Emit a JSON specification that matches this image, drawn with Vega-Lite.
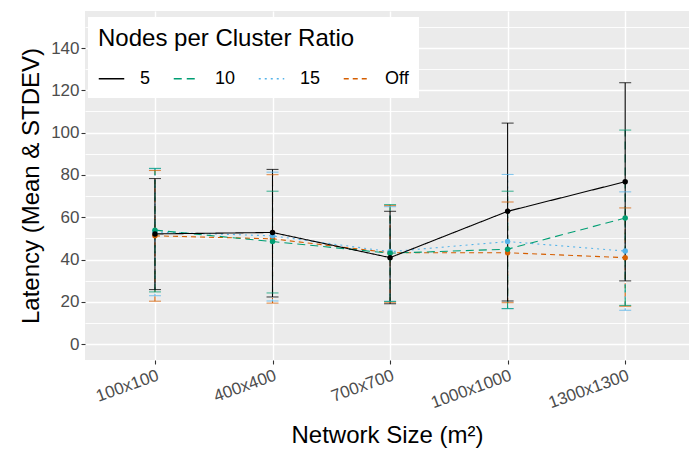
{
  "$schema": "https://vega.github.io/schema/vega-lite/v6.json",
  "width": 604,
  "height": 349,
  "padding": {"left": 85, "top": 11, "right": 0, "bottom": 92},
  "autosize": {"type": "none"},
  "background": "white",
  "config": {
    "font": "Liberation Sans",
    "view": {"fill": "#EBEBEB", "stroke": null},
    "axis": {
      "domain": false,
      "gridColor": "white",
      "tickColor": "#333333",
      "tickSize": 4,
      "tickWidth": 1.1,
      "labelColor": "#4D4D4D",
      "labelFont": "Liberation Sans",
      "titleFont": "Liberation Sans",
      "titleFontWeight": "normal",
      "titleColor": "black"
    },
    "legend": {
      "orient": "none",
      "legendX": 3,
      "legendY": 6,
      "direction": "horizontal",
      "fillColor": "white",
      "padding": 10,
      "titleFont": "Liberation Sans",
      "labelFont": "Liberation Sans",
      "titleFontSize": 24,
      "titleFontWeight": "normal",
      "titleColor": "black",
      "titleLimit": 500,
      "labelFontSize": 18,
      "labelColor": "black",
      "symbolType": "stroke",
      "symbolSize": 650,
      "symbolStrokeWidth": 1.3,
      "labelOffset": 15,
      "columnPadding": 20,
      "titlePadding": 14
    }
  },
  "data": {
    "values": [
      {"size": "100x100", "ratio": "Off", "mean": 51.2, "lo": 20.3, "hi": 82.1},
      {"size": "100x100", "ratio": "15", "mean": 53.0, "lo": 22.9, "hi": 83.0},
      {"size": "100x100", "ratio": "10", "mean": 53.9, "lo": 24.7, "hi": 83.1},
      {"size": "100x100", "ratio": "5", "mean": 52.1, "lo": 25.8, "hi": 78.3},
      {"size": "400x400", "ratio": "Off", "mean": 49.8, "lo": 19.4, "hi": 80.1},
      {"size": "400x400", "ratio": "15", "mean": 51.2, "lo": 20.4, "hi": 81.3},
      {"size": "400x400", "ratio": "10", "mean": 48.5, "lo": 24.2, "hi": 72.3},
      {"size": "400x400", "ratio": "5", "mean": 52.8, "lo": 22.3, "hi": 82.6},
      {"size": "700x700", "ratio": "Off", "mean": 43.2, "lo": 19.8, "hi": 65.5},
      {"size": "700x700", "ratio": "15", "mean": 43.7, "lo": 20.2, "hi": 65.0},
      {"size": "700x700", "ratio": "10", "mean": 43.0, "lo": 20.2, "hi": 66.0},
      {"size": "700x700", "ratio": "5", "mean": 40.9, "lo": 19.1, "hi": 62.8},
      {"size": "1000x1000", "ratio": "Off", "mean": 43.2, "lo": 19.6, "hi": 67.2},
      {"size": "1000x1000", "ratio": "15", "mean": 48.5, "lo": 16.8, "hi": 80.2},
      {"size": "1000x1000", "ratio": "10", "mean": 44.9, "lo": 16.8, "hi": 72.3},
      {"size": "1000x1000", "ratio": "5", "mean": 62.8, "lo": 20.4, "hi": 104.5},
      {"size": "1300x1300", "ratio": "Off", "mean": 40.9, "lo": 17.9, "hi": 64.4},
      {"size": "1300x1300", "ratio": "15", "mean": 44.0, "lo": 16.0, "hi": 72.0},
      {"size": "1300x1300", "ratio": "10", "mean": 59.6, "lo": 18.3, "hi": 101.2},
      {"size": "1300x1300", "ratio": "5", "mean": 76.8, "lo": 29.9, "hi": 123.6}
    ]
  },
  "encoding": {
    "x": {
      "field": "size",
      "type": "ordinal",
      "sort": ["100x100", "400x400", "700x700", "1000x1000", "1300x1300"],
      "scale": {"type": "point", "padding": 0.569, "align": 0.523},
      "axis": {
        "title": "Network Size (m²)",
        "titleFontSize": 24,
        "titlePadding": 13,
        "labelFontSize": 17,
        "labelAngle": -20,
        "labelAlign": "right",
        "labelBaseline": "top",
        "labelPadding": 3,
        "grid": true,
        "gridWidth": 1.4
      }
    },
    "color": {
      "field": "ratio",
      "type": "nominal",
      "scale": {"domain": ["5", "10", "15", "Off"], "range": ["#000000", "#009E73", "#56B4E9", "#D55E00"]},
      "legend": null
    }
  },
  "layer": [
    {
      "mark": {"type": "rule", "strokeWidth": 1.1},
      "encoding": {
        "y": {
          "field": "lo",
          "type": "quantitative",
          "scale": {"domain": [-7.5, 157.5], "nice": false, "zero": false},
          "axis": {
            "title": "Latency (Mean & STDEV)",
            "titleFontSize": 24,
            "titlePadding": 7,
            "labelFontSize": 17,
            "labelPadding": 2,
            "values": [0, 10, 20, 30, 40, 50, 60, 70, 80, 90, 100, 110, 120, 130, 140, 150],
            "labelExpr": "datum.value % 20 === 0 ? datum.label : ''",
            "tickOpacity": {"condition": {"test": "datum.value % 20 === 0", "value": 1}, "value": 0},
            "grid": true,
            "gridWidth": {"condition": {"test": "datum.value % 20 === 0", "value": 1.4}, "value": 0.9}
          }
        },
        "y2": {"field": "hi"},
        "strokeDash": {
          "field": "ratio",
          "type": "nominal",
          "scale": {"domain": ["5", "10", "15", "Off"], "range": [[1, 0], [8, 5], [2, 4], [5, 4]]},
          "legend": null
        }
      }
    },
    {
      "mark": {"type": "tick", "size": 12, "thickness": 1.1},
      "encoding": {"y": {"field": "lo", "type": "quantitative", "axis": null}}
    },
    {
      "mark": {"type": "tick", "size": 12, "thickness": 1.1},
      "encoding": {"y": {"field": "hi", "type": "quantitative", "axis": null}}
    },
    {
      "mark": {"type": "line", "strokeWidth": 1.1},
      "encoding": {
        "y": {"field": "mean", "type": "quantitative", "axis": null},
        "color": {
          "field": "ratio",
          "type": "nominal",
          "legend": {"title": "Nodes per Cluster Ratio"}
        },
        "strokeDash": {
          "field": "ratio",
          "type": "nominal",
          "legend": {"title": "Nodes per Cluster Ratio"}
        }
      }
    },
    {
      "mark": {"type": "point", "filled": true, "size": 30, "opacity": 1},
      "encoding": {"y": {"field": "mean", "type": "quantitative", "axis": null}}
    }
  ],
  "resolve": {"axis": {"y": "independent"}, "legend": {"color": "independent", "strokeDash": "independent"}}
}
